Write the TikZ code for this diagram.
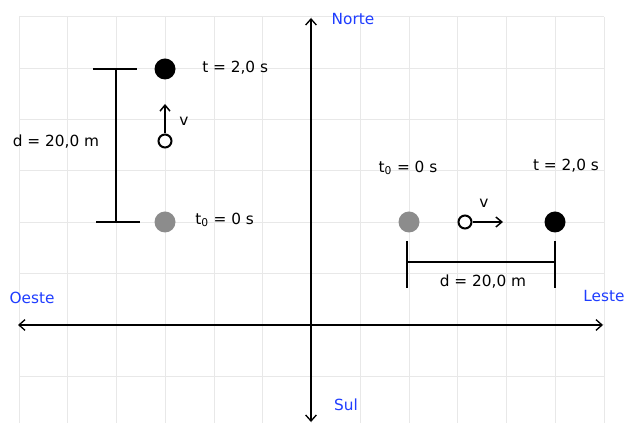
\documentclass[tikz,border=0pt]{standalone}
\usepackage{fontspec}
\setmainfont{DejaVu Sans}
\usetikzlibrary{arrows.meta}
\definecolor{gridc}{HTML}{E8E8E8}
\definecolor{lbl}{HTML}{1F3DFF}
\definecolor{dotgray}{HTML}{8C8C8C}
\begin{document}
\begin{tikzpicture}[x=0.75pt,y=-0.75pt,
  font=\fontsize{11.5}{13.8}\selectfont,
  gridline/.style={draw=gridc,line width=0.75pt},
  axis/.style={draw=black,line width=1.1pt,{Straight Barb[length=4.5pt,width=8pt,line width=1pt]}-{Straight Barb[length=4.5pt,width=8pt,line width=1pt]}},
  bar/.style={draw=black,line width=1.5pt},
  vec/.style={draw=black,line width=1.5pt,-{Straight Barb[length=4.5pt,width=7.5pt,line width=1.1pt]}},
  fulldot/.style={circle,fill=black,minimum size=15.75pt,inner sep=0pt},
  graydot/.style={circle,fill=dotgray,minimum size=15.75pt,inner sep=0pt},
  opendot/.style={circle,draw=black,fill=white,line width=1.5pt,minimum size=9.75pt,inner sep=0pt},
  dir/.style={text=lbl,inner sep=0pt},
  txt/.style={text=black,inner sep=0pt}]
\useasboundingbox (0,0) rectangle (625,423);
\fill[white] (0,0) rectangle (625,423);
% grid
\foreach \i in {0,...,12}
  \draw[gridline] ({19+48.75*\i},17) -- ({19+48.75*\i},423);
\foreach \j in {0,...,7}
  \draw[gridline] (19,{17+51.3*\j}) -- (604,{17+51.3*\j});
% axes
\coordinate (N) at (311,18);
\coordinate (S) at (311,422);
\coordinate (W) at (18,325);
\coordinate (E) at (603,325);
\draw[axis] (W) -- (E);
\draw[axis] (S) -- (N);
\node[dir] (norte) at (353,19) {Norte};
\node[dir] (sul) at (346,405) {Sul};
\node[dir] (oeste) at (32,298) {Oeste};
\node[dir] (leste) at (604,296) {Leste};
% left scene (vertical motion)
\node[fulldot] (lend) at (165,69) {};
\node[graydot] (lstart) at (165,222) {};
\node[opendot] (lmid) at (165,141) {};
\coordinate (ltip) at (165,104);
\draw[vec] (lmid.north) -- (ltip);
\node[txt] (lv) at (184,121) {v};
\node[txt,anchor=west] (lt) at (202,68) {t = 2,0 s};
\node[txt,anchor=west] (lt0) at (195,220) {t$_{\mathrm{0}}$ = 0 s};
\coordinate (lbt) at (116,69);
\coordinate (lbb) at (116,222);
\coordinate (lct1) at (93,69);
\coordinate (lct2) at (137,69);
\coordinate (lcb1) at (96,222);
\coordinate (lcb2) at (140,222);
\draw[bar] (lbt) -- (lbb);
\draw[bar] (lct1) -- (lct2);
\draw[bar] (lcb1) -- (lcb2);
\node[txt] (ld) at (56,142) {d = 20,0 m};
% right scene (horizontal motion)
\node[graydot] (rstart) at (409,222) {};
\node[fulldot] (rend) at (555,222) {};
\node[opendot] (rmid) at (465,222) {};
\coordinate (rtip) at (503,222);
\draw[vec] (rmid.east) -- (rtip);
\node[txt] (rv) at (484,203) {v};
\node[txt] (rt0) at (408,168) {t$_{\mathrm{0}}$ = 0 s};
\node[txt] (rt) at (566,166) {t = 2,0 s};
\coordinate (rb1t) at (407,241);
\coordinate (rb1b) at (407,288);
\coordinate (rb2t) at (555,241);
\coordinate (rb2b) at (555,288);
\coordinate (rh1) at (407,262);
\coordinate (rh2) at (555,262);
\draw[bar] (rb1t) -- (rb1b);
\draw[bar] (rb2t) -- (rb2b);
\draw[bar] (rh1) -- (rh2);
\node[txt] (rd) at (483,282) {d = 20,0 m};
\end{tikzpicture}
\end{document}
